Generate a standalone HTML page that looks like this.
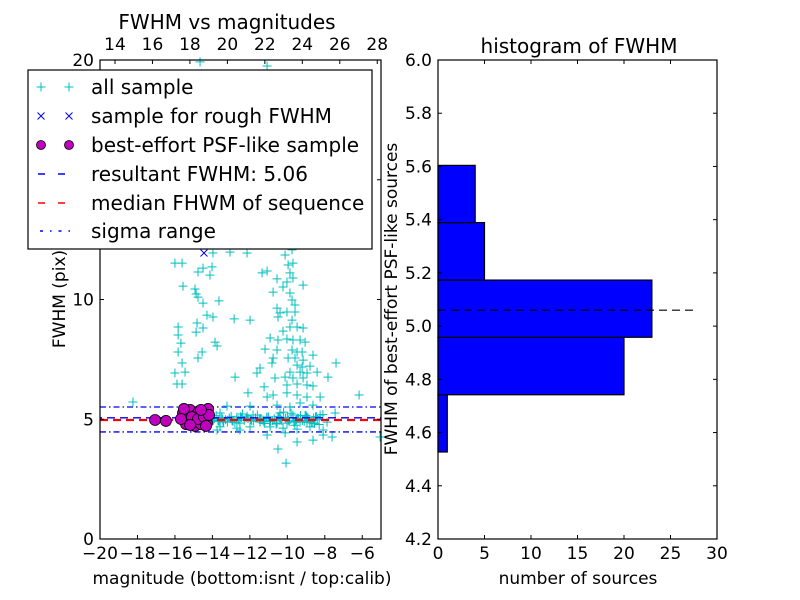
<!DOCTYPE html>
<html><head><meta charset="utf-8">
<style>
html,body{margin:0;padding:0;background:#fff;}
svg{display:block;font-family:"DejaVu Sans","Liberation Sans",sans-serif;}
</style></head>
<body>
<svg id="fig" width="800" height="600" viewBox="0 0 800 600" xmlns="http://www.w3.org/2000/svg">
<rect x="0" y="0" width="800" height="600" fill="#fff"/>
</svg>
<script>
// ---- scatter data (left panel) ----
const allMag = [-16.00,-15.62,-14.77,-14.50,-14.02,-14.13,-15.57,-14.93,-14.87,-14.77,-14.50,-13.65,-14.29,-13.97,-12.84,-11.99,-14.82,-14.50,-14.87,-15.83,-15.83,-15.68,-15.83,-15.62,-16.00,-15.46,-15.89,-15.62,-13.86,-13.75,-14.55,-14.77,-12.79,-12.15,-13.97,
-11.35,-11.08,-10.55,-10.76,-10.12,-9.96,-9.70,-9.86,-10.02,-9.70,-9.16,-10.23,-9.86,-9.75,-9.59,-10.55,-10.39,-10.02,-9.75,-9.59,-10.50,-10.23,-9.86,-9.48,-9.16,-10.92,-10.50,-10.02,-9.70,-9.32,-9.05,-11.19,-10.55,-9.75,-9.48,-9.21,-10.76,-9.96,-9.59,-9.16,-8.63,-10.82,-9.48,-9.21,-8.79,-7.40,-11.46,-9.86,-9.32,-8.95,-8.41,-11.62,-10.66,-10.12,-9.70,-9.16,-7.83,-11.24,-10.02,-9.48,-8.95,-8.63,
-12.10,-11.08,-10.76,-10.02,-9.48,-8.95,-8.25,-6.17,-11.99,-13.22,-10.55,-9.86,-9.32,-8.63,-7.45,-13.59,-12.69,-11.83,-11.08,-10.39,-9.70,-8.95,-8.25,-7.88,-13.43,-12.53,-11.46,-10.55,-10.02,-9.32,-8.63,-13.59,-12.69,-11.99,-10.92,-10.23,-9.48,-8.79,-8.09,-13.75,-12.53,-11.08,-10.12,-9.48,-8.63,-7.61,-8.09,-10.50,-10.07,-5.05,-18.24,-11.08,-14.66,-13.06,-9.75,
-13.9,-13.7,-13.5,-13.3,-13.1,-12.9,-12.7,-12.5,-12.3,-12.1,-11.9,-11.7,-11.5,-11.3,-11.1,-10.9,-10.7,-10.5,-10.3,-10.1,-9.9,-9.7,-9.5,-9.3,-9.1,-8.9,-8.7,-8.5,-8.3,-8.1,-13.8,-12.8,-11.6,-10.6,-9.8,-9.6,-10.2,-11.2,-12.4,-13.2,
-13.95,-13.6,-13.4,-13.0,-12.6,-12.2,-11.8,-11.4,-11.0,-10.8,-10.4,-10.0,-9.65,-9.4,-9.2,-9.0,-8.8,-8.6,-8.4,-13.45,-12.95,-12.45,-11.95,-11.45,-10.95,-10.45,-9.95,-9.45,-8.95,-8.45,-14.0,-13.65,-12.15,-11.25,-10.35,-9.55,-9.05,-8.55];
const allFwhm = [11.52,11.52,11.15,11.31,11.36,11.02,10.56,10.44,10.23,10.10,9.85,9.94,9.35,9.27,9.19,9.14,9.02,8.81,8.64,8.85,8.52,8.18,7.81,7.35,6.93,6.97,6.47,6.47,8.22,8.06,7.81,7.56,6.76,11.94,11.94,
11.11,11.19,10.86,10.31,11.86,11.44,11.52,11.11,10.73,10.90,10.60,10.52,10.27,9.98,9.77,9.64,9.44,9.48,9.14,9.48,9.27,8.68,8.85,8.85,8.81,8.39,8.31,8.35,8.31,8.31,8.22,7.93,7.89,7.89,7.81,7.81,7.56,7.56,7.56,7.47,7.68,7.35,7.26,7.18,7.22,7.35,7.14,6.97,6.97,6.93,6.97,6.93,6.72,6.76,6.72,6.72,6.76,6.35,6.43,6.47,6.43,6.39,
6.10,5.93,6.01,6.10,6.01,5.93,5.93,6.01,5.55,5.55,5.59,5.51,5.68,5.59,5.26,5.26,5.09,5.18,5.09,5.26,5.18,5.09,5.18,4.88,4.88,4.84,4.88,4.84,4.84,4.88,4.84,4.68,4.63,4.68,4.68,4.63,4.59,4.68,4.55,4.55,4.55,4.34,4.43,4.05,4.13,4.26,4.34,3.76,3.17,4.26,5.72,19.75,19.92,11.98,12.07,
5.02,4.95,5.08,4.98,5.05,4.92,5.0,5.1,4.96,5.03,4.94,5.06,5.0,4.97,5.08,4.93,5.02,5.12,4.95,5.04,4.9,5.07,4.98,5.15,4.92,5.05,4.85,5.1,4.78,5.2,5.15,4.86,5.18,4.8,5.25,4.75,5.3,4.82,5.22,4.88,
4.96,5.04,4.9,5.12,4.97,5.06,4.92,5.02,5.1,4.94,5.0,5.08,4.88,5.03,4.95,5.14,4.9,5.05,4.98,5.01,4.93,5.07,4.99,5.03,4.91,5.09,4.96,5.04,4.87,5.11,5.06,4.91,5.13,4.89,5.0,4.94,5.16,4.83];
const roughMag = [-14.45];
const roughFwhm = [11.94];
const bestMag = [-17.06,-16.48,-15.57,-15.35,-15.19,-15.03,-14.87,-14.71,-14.55,-14.39,-14.23,-15.41,-14.93,-14.61,-14.29,-15.52,-15.09,-14.77,-14.45,-14.34,-15.19,-15.68,-14.18,-14.61];
const bestFwhm = [4.97,4.93,5.26,5.05,5.39,4.88,5.18,5.34,4.97,5.26,5.43,4.80,4.72,4.80,4.84,5.43,5.09,5.01,5.09,4.72,4.76,5.01,5.18,5.39];
const resultFwhm = 5.06;
const medianFwhm = 4.97;
const sigmaLow = 4.47;
const sigmaHigh = 5.51;
const bottomTicks = [-20,-18,-16,-14,-12,-10,-8,-6];
const topTicks = [14,16,18,20,22,24,26,28];
const leftYTicks = [0,5,10,15,20];
// ---- histogram data (right panel) ----
const binEdges = [4.527,4.742,4.958,5.173,5.389,5.604];
const binCounts = [1,20,23,5,4];
const histYTicks = [4.2,4.4,4.6,4.8,5.0,5.2,5.4,5.6,5.8,6.0];
const histXTicks = [0,5,10,15,20,25,30];

const NS = "http://www.w3.org/2000/svg";
const svg = document.getElementById('fig');
function mk(tag, attrs, parent){
  const e = document.createElementNS(NS, tag);
  for (const k in attrs) e.setAttribute(k, attrs[k]);
  (parent||svg).appendChild(e);
  return e;
}
function txt(s, x, y, size, anchor, parent){
  const t = mk('text', {x:x, y:y, 'font-size':size, 'text-anchor':anchor||'middle', fill:'#000'}, parent);
  t.textContent = s;
  return t;
}
function fmtMinus(v){ return v < 0 ? '\u2212' + Math.abs(v) : String(v); }

// ---- left panel axes ----
const L = {x0:100, x1:381, y0:539, y1:60};
const magMin = -20, magMax = -5, topOffset = 33.2;
function sx(m){ return L.x0 + (m - magMin) / (magMax - magMin) * (L.x1 - L.x0); }
function sy(f){ return L.y0 - f / 20 * (L.y0 - L.y1); }

const gL = mk('g', {});



const sig1 = mk('line', {x1:L.x0, x2:L.x1, y1:sy(sigmaHigh), y2:sy(sigmaHigh), stroke:'#0000ff', 'stroke-width':1.3, 'stroke-dasharray':'6 3 1.5 3'}, gL);


const sig2 = mk('line', {x1:L.x0, x2:L.x1, y1:sy(sigmaLow), y2:sy(sigmaLow), stroke:'#0000ff', 'stroke-width':1.3, 'stroke-dasharray':'6 3 1.5 3'}, gL);



const gAll = mk('g', {stroke:'#00bfbf', 'stroke-width':1}, gL);


for (let i = 0; i < allMag.length; i++){
  const x = sx(allMag[i]), y = sy(allFwhm[i]);
  const p = mk('path', {d:`M${x-4.5},${y}H${x+4.5}M${x},${y-4.5}V${y+4.5}`}, gAll);
  
  
}
for (let i = 0; i < roughMag.length; i++){
  const x = sx(roughMag[i]), y = sy(roughFwhm[i]);
  const p = mk('path', {d:`M${x-3.5},${y-3.5}L${x+3.5},${y+3.5}M${x-3.5},${y+3.5}L${x+3.5},${y-3.5}`, stroke:'#0000ff', 'stroke-width':1}, gL);
  
  
}
const med = mk('line', {x1:L.x0, x2:L.x1, y1:sy(medianFwhm), y2:sy(medianFwhm), stroke:'#ff0000', 'stroke-width':2.2, 'stroke-dasharray':'8 5'}, gL);


const res = mk('line', {x1:L.x0, x2:L.x1, y1:sy(resultFwhm), y2:sy(resultFwhm), stroke:'#0000ff', 'stroke-width':1.3, 'stroke-dasharray':'8 5', 'stroke-dashoffset':'6'}, gL);


for (let i = 0; i < bestMag.length; i++){
  const c = mk('circle', {cx:sx(bestMag[i]), cy:sy(bestFwhm[i]), r:5.5, fill:'#bf00bf', stroke:'#000', 'stroke-width':0.8}, gL);
  
  
}
const fL = mk('rect', {x:L.x0, y:L.y1, width:L.x1-L.x0, height:L.y0-L.y1, fill:'none', stroke:'#000', 'stroke-width':1.2}, gL);


for (const t of bottomTicks){
  const x = sx(t);
  mk('line', {x1:x, x2:x, y1:L.y0, y2:L.y0-4, stroke:'#000'}, gL);
  const lb = txt(fmtMinus(t), x, L.y0+20, 17, 'middle', gL);
  
  
}
for (const t of topTicks){
  const x = sx(t - topOffset);
  mk('line', {x1:x, x2:x, y1:L.y1, y2:L.y1+4, stroke:'#000'}, gL);
  const lb = txt(String(t), x, L.y1-10, 17, 'middle', gL);
  
  
}
for (const t of leftYTicks){
  const y = sy(t);
  mk('line', {x1:L.x0, x2:L.x0+4, y1:y, y2:y, stroke:'#000'}, gL);
  mk('line', {x1:L.x1, x2:L.x1-4, y1:y, y2:y, stroke:'#000'}, gL);
  const lb = txt(String(t), L.x0-6, y+6, 17, 'end', gL);
  
  
}
// legend
const lg = mk('g', {}, svg);


mk('rect', {x:28, y:70, width:344, height:179, fill:'#fff', stroke:'#000', 'stroke-width':1.2}, lg);
const legendLabels = ['all sample','sample for rough FWHM','best-effort PSF-like sample','resultant FWHM: 5.06','median FHWM of sequence','sigma range'];
const legY = [87,116,145,174,203,231];
legendLabels.forEach((s, i) => {
  const y = legY[i];
  const ge = mk('g', {}, lg);
  
  
  if (i === 0){ for (const x of [41,69]) mk('path', {d:`M${x-4.5},${y}H${x+4.5}M${x},${y-4.5}V${y+4.5}`, stroke:'#00bfbf'}, ge); }
  if (i === 1){ for (const x of [41,69]) mk('path', {d:`M${x-3.5},${y-3.5}L${x+3.5},${y+3.5}M${x-3.5},${y+3.5}L${x+3.5},${y-3.5}`, stroke:'#0000ff'}, ge); }
  if (i === 2){ for (const x of [41,69]) mk('circle', {cx:x, cy:y, r:4.5, fill:'#bf00bf', stroke:'#000', 'stroke-width':0.8}, ge); }
  if (i === 3) mk('line', {x1:38, x2:72, y1:y, y2:y, stroke:'#0000ff', 'stroke-width':1.5, 'stroke-dasharray':'7 13'}, ge);
  if (i === 4) mk('line', {x1:38, x2:72, y1:y, y2:y, stroke:'#ff0000', 'stroke-width':1.5, 'stroke-dasharray':'7 13'}, ge);
  if (i === 5) mk('line', {x1:40, x2:72, y1:y, y2:y, stroke:'#0000ff', 'stroke-width':1.5, 'stroke-dasharray':'3 7 1.5 7'}, ge);
  txt(s, 91, y+7, 20, 'start', ge);
});
const t1 = txt('FWHM vs magnitudes', 227, 29, 20);


const xl = txt('magnitude (bottom:isnt / top:calib)', 242, 584, 17);


const yl = txt('FWHM (pix)', 0, 0, 17);
yl.setAttribute('transform', 'translate(65,299) rotate(-90)');



// ---- right panel (histogram) ----
const R = {x0:438, x1:717, y0:539, y1:60};
function hx(c){ return R.x0 + c / 30 * (R.x1 - R.x0); }
function hy(v){ return R.y0 - (v - 4.2) / 1.8 * (R.y0 - R.y1); }
const gR = mk('g', {});


for (let i = 0; i < binCounts.length; i++){
  const b = mk('rect', {x:hx(0), y:hy(binEdges[i+1]), width:hx(binCounts[i])-hx(0), height:hy(binEdges[i])-hy(binEdges[i+1]), fill:'#0000ff', stroke:'#000', 'stroke-width':1.2}, gR);
  
  
}
const hl = mk('line', {x1:hx(0), x2:hx(27.9), y1:hy(resultFwhm), y2:hy(resultFwhm), stroke:'#000', 'stroke-width':1.1, 'stroke-dasharray':'8 5'}, gR);


const fR = mk('rect', {x:R.x0, y:R.y1, width:R.x1-R.x0, height:R.y0-R.y1, fill:'none', stroke:'#000', 'stroke-width':1.2}, gR);


for (const t of histXTicks){
  const x = hx(t);
  mk('line', {x1:x, x2:x, y1:R.y0, y2:R.y0-4, stroke:'#000'}, gR);
  mk('line', {x1:x, x2:x, y1:R.y1, y2:R.y1+4, stroke:'#000'}, gR);
  const lb = txt(String(t), x, R.y0+20, 17, 'middle', gR);
  
  
}
for (const t of histYTicks){
  const y = hy(t);
  mk('line', {x1:R.x0, x2:R.x0+4, y1:y, y2:y, stroke:'#000'}, gR);
  mk('line', {x1:R.x1, x2:R.x1-4, y1:y, y2:y, stroke:'#000'}, gR);
  const lb = txt(t.toFixed(1), R.x0-6, y+6, 17, 'end', gR);
  
  
}
const t2 = txt('histogram of FWHM', 579, 53, 20);


const xl2 = txt('number of sources', 578, 584, 17);


const yl2 = txt('FWHM of best-effort PSF-like sources', 0, 0, 17);
yl2.setAttribute('transform', 'translate(397,299) rotate(-90)');


</script>
</body></html>
